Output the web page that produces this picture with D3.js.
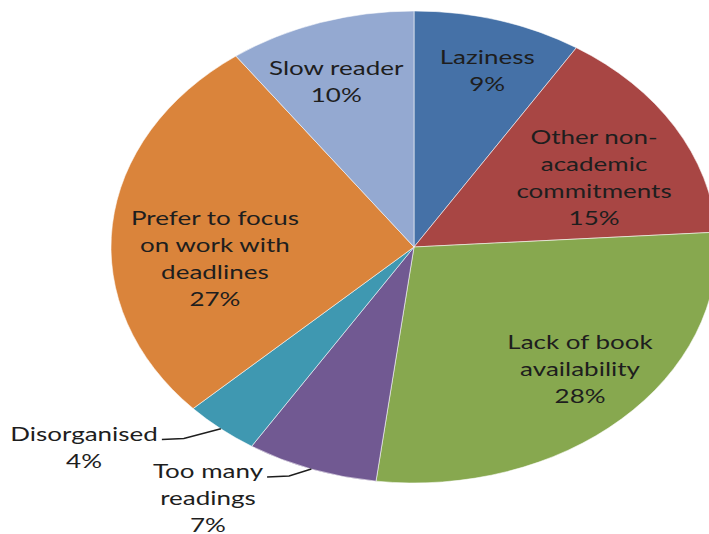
<!DOCTYPE html>
<html>
<head>
<meta charset="utf-8">
<script src="https://cdn.jsdelivr.net/npm/d3@7"></script>
<style>
  html, body { margin: 0; padding: 0; background: #fff; }
  svg { display: block; }
</style>
</head>
<body>
<svg id="chart" width="709" height="534"></svg>
<script>
// ---- data ----
const categories = ["Laziness", "Other non-academic commitments", "Lack of book availability",
  "Too many readings", "Disorganised", "Prefer to focus on work with deadlines", "Slow reader"];
const values = [9, 15, 28, 7, 4, 27, 10];
const labelLines = [["Laziness"], ["Other non-", "academic", "commitments"], ["Lack of book", "availability"],
  ["Too many", "readings"], ["Disorganised"], ["Prefer to focus", "on work with", "deadlines"], ["Slow reader"]];
const colors = ["#4571a7", "#a84644", "#87a84f", "#715992", "#3f98b1", "#da843b", "#94a9d1"];

// ---- layout ----
const W = 709, H = 534;
const cx = 414, cy = 247, ry = 236, rx = 303;
const sx = rx / ry;
const textScale = 1.3;
const lineH = 27;
// label placement: [angle in degrees (clockwise from top), radius as fraction of ry], and outside flag
const labelPlace = [[17.9, 0.786], [63.5, 0.664], [133.3, 0.753], [212.6, 1.262], [232.1, 1.38], [265.6, 0.659], [339.9, 0.747]];
const outside = [false, false, false, true, true, false, false];

const svg = d3.select("#chart");
const total = d3.sum(values);

const pie = d3.pie().sort(null).value(d => d.value).startAngle(0).endAngle(2 * Math.PI);
const arcs = pie(categories.map((c, i) => ({ name: c, value: values[i], i })));
const arc = d3.arc().innerRadius(0).outerRadius(ry);

const g = svg.append("g").attr("transform", `translate(${cx},${cy}) scale(${sx},1)`);
g.selectAll("path.slice").data(arcs).join("path")
  .attr("class", "slice")
  .attr("d", arc)
  .attr("fill", d => colors[d.data.i])
  .attr("stroke", "rgba(255,255,255,0.55)")
  .attr("stroke-width", 1)
  .attr("vector-effect", "non-scaling-stroke");

const deg = Math.PI / 180;
const labels = svg.append("g")
  .attr("font-family", "Lato, 'Open Sans', sans-serif")
  .attr("font-size", 20)
  .attr("fill", "#1e1e1e");

arcs.forEach(d => {
  const i = d.data.i;
  const [a, f] = labelPlace[i];
  const r = f * ry;
  const x = cx + sx * r * Math.sin(a * deg);
  const y = cy - r * Math.cos(a * deg);
  const lines = labelLines[i].concat([Math.round(d.data.value / total * 100) + "%"]);
  const n = lines.length;
  const t = labels.append("text")
    .attr("transform", `translate(${x},${y}) scale(${textScale},1)`)
    .attr("text-anchor", "middle");
  lines.forEach((ln, k) => {
    t.append("tspan").attr("x", 0).attr("y", (k - (n - 1) / 2) * lineH).attr("dy", "0.35em").text(ln);
  });
  if (outside[i]) {
    const first = t.select("tspan").node();
    const w = first.getComputedTextLength() * textScale;
    const y0 = y - (n - 1) / 2 * lineH + 6;
    const x0 = x + w / 2 + 4;
    const mid = (d.startAngle + d.endAngle) / 2;
    const ex = cx + sx * ry * Math.sin(mid);
    const ey = cy - ry * Math.cos(mid);
    svg.append("path")
      .attr("d", `M${x0},${y0} L${x0 + 22},${y0 - 1} L${ex},${ey}`)
      .attr("fill", "none")
      .attr("stroke", "#1e1e1e")
      .attr("stroke-width", 1.5);
  }
});
</script>
</body>
</html>
